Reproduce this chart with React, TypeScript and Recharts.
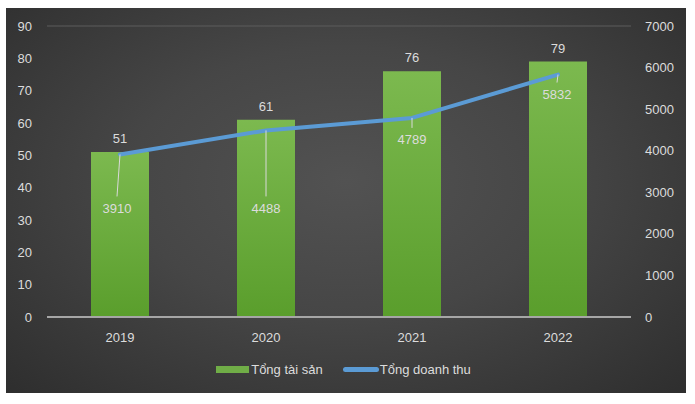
import { ComposedChart, Bar, Line, XAxis, YAxis, CartesianGrid, Legend, LabelList } from 'recharts'

const years = ['2019', '2020', '2021', '2022']
const tongTaiSan = [51, 61, 76, 79]
const tongDoanhThu = [3910, 4488, 4789, 5832]
const leftTicks = [0, 10, 20, 30, 40, 50, 60, 70, 80, 90]
const rightTicks = [0, 1000, 2000, 3000, 4000, 5000, 6000, 7000]
// how far below each line point Excel dragged the data label
const lineLabelDrop = [54, 78, 22, 20]
const lineLabelShift = [-3, 0, 0, -1]

const data = years.map((year, i) => ({
  year,
  taiSan: tongTaiSan[i],
  doanhThu: tongDoanhThu[i],
}))

const FONT = '"Liberation Sans", Arial, sans-serif'
const TEXT = '#dcdcdc'

function LineLabel(props: any) {
  const { x, y, value, index } = props
  const dy = lineLabelDrop[index]
  const dx = lineLabelShift[index]
  return (
    <g>
      <line x1={x} y1={y} x2={x + dx} y2={y + dy - 12} stroke="#d9d9d9" strokeWidth={1} />
      <text x={x + dx} y={y + dy} fill={TEXT} fontSize={13} fontFamily={FONT} textAnchor="middle" dominantBaseline="central">
        {value}
      </text>
    </g>
  )
}

function LegendContent() {
  return (
    <div style={{ display: 'flex', justifyContent: 'center', alignItems: 'center', height: 30, fontFamily: FONT, fontSize: 13, color: TEXT }}>
      <span style={{ display: 'inline-block', width: 33, height: 7, background: '#70ad47', marginRight: 2 }} />
      <span style={{ marginRight: 20 }}>Tổng tài sản</span>
      <span style={{ display: 'inline-block', width: 36, height: 5, borderRadius: 3, background: '#5b9bd5', marginRight: 1 }} />
      <span>Tổng doanh thu</span>
    </div>
  )
}

export default function App() {
  return (
    <div style={{
      position: 'absolute', left: 6, top: 8, width: 680, height: 385,
      background: 'radial-gradient(ellipse at 50% 45%, #525252 0%, #464646 45%, #2e2e2e 100%)',
    }}>
      <ComposedChart width={680} height={385} data={data} margin={{ top: 18, right: 10, left: 5, bottom: 9 }}>
        <defs>
          <linearGradient id="barFill" x1="0" y1="0" x2="0" y2="1">
            <stop offset="0%" stopColor="#7cb94f" />
            <stop offset="100%" stopColor="#5a9e2c" />
          </linearGradient>
        </defs>
        <CartesianGrid vertical={false} stroke="#5c5c5c" strokeWidth={1} />
        <XAxis dataKey="year" tickLine={false} axisLine={{ stroke: '#a6a6a6', strokeWidth: 2 }} height={37}
          tick={{ fill: TEXT, fontSize: 13, fontFamily: FONT }} tickMargin={10} />
        <YAxis yAxisId="left" domain={[0, 90]} ticks={leftTicks} width={36} axisLine={false} tickLine={false}
          tick={{ fill: TEXT, fontSize: 13, fontFamily: FONT }} tickMargin={9} interval={0} />
        <YAxis yAxisId="right" orientation="right" domain={[0, 7000]} ticks={rightTicks} width={45} axisLine={false} tickLine={false}
          tick={{ fill: TEXT, fontSize: 13, fontFamily: FONT, textAnchor: 'start' }} tickMargin={8} interval={0} />
        <Legend verticalAlign="bottom" height={30} content={<LegendContent />} />
        <Bar yAxisId="left" dataKey="taiSan" name="Tổng tài sản" fill="url(#barFill)" barSize={58} isAnimationActive={false}>
          <LabelList dataKey="taiSan" position="top" offset={9} fill={TEXT} fontSize={13} fontFamily={FONT} />
        </Bar>
        <Line yAxisId="right" dataKey="doanhThu" name="Tổng doanh thu" type="linear" stroke="#5b9bd5" strokeWidth={4}
          strokeLinejoin="round" strokeLinecap="round" dot={false} activeDot={false} isAnimationActive={false}>
          <LabelList dataKey="doanhThu" content={<LineLabel />} />
        </Line>
      </ComposedChart>
    </div>
  )
}
